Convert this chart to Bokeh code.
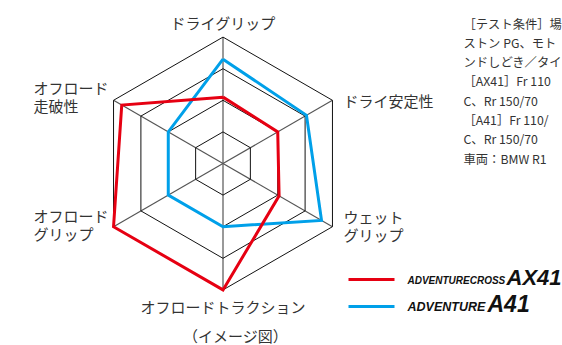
import math
from bokeh.plotting import figure
from bokeh.models import Range1d
from bokeh.core.properties import value
from bokeh.embed import file_html
from bokeh.resources import INLINE

# ---- data ----
categories = ["ドライグリップ", "ドライ安定性", "ウェットグリップ", "オフロードトラクション", "オフロードグリップ", "オフロード走破性"]
ax41_values = [2.1, 2.0, 2.05, 4.0, 4.0, 3.7]
a41_values = [3.3, 3.05, 3.6, 2.0, 2.0, 2.0]
ring_levels = [1, 2, 3, 4]
series_names = ["ADVENTURECROSS AX41", "ADVENTURE A41"]
notes = [
    "［テスト条件］場",
    "ストン PG、モト",
    "ンドしどき／タイ",
    "［AX41］Fr 110",
    "C、Rr 150/70",
    "［A41］Fr 110/",
    "C、Rr 150/70",
    "車両：BMW R1",
]

# ---- geometry (pixel mapping) ----
W, H = 562, 345
CX, CY = 222.5, 163.0   # px of radar centre
U = 31.6                # px per unit


def px(x):
    return (x - CX) / U


def py(y):
    return (CY - y) / U


angles = [math.radians(90 - 60 * i) for i in range(6)]

p = figure(width=W, height=H, output_backend="svg", toolbar_location=None,
           x_range=Range1d(px(0), px(W)), y_range=Range1d(py(H), py(0)),
           x_axis_type=None, y_axis_type=None, min_border=0)
p.grid.visible = False
p.outline_line_color = None
p.background_fill_color = "white"
p.border_fill_color = "white"

rmax = max(ring_levels)
# spokes
for a in angles:
    p.line([0, rmax * math.cos(a)], [0, rmax * math.sin(a)], line_color="#555555", line_width=1.2)
# rings
for r in ring_levels:
    xs = [r * math.cos(a) for a in angles] + [r * math.cos(angles[0])]
    ys = [r * math.sin(a) for a in angles] + [r * math.sin(angles[0])]
    p.line(xs, ys, line_color="#111111", line_width=1)

# series
def poly(vals):
    xs = [v * math.cos(a) for v, a in zip(vals, angles)]
    ys = [v * math.sin(a) for v, a in zip(vals, angles)]
    return xs + [xs[0]], ys + [ys[0]]

bx, by = poly(a41_values)
p.line(bx, by, line_color="#00a0e9", line_width=3, line_join="miter")
rx, ry = poly(ax41_values)
p.line(rx, ry, line_color="#e60012", line_width=3, line_join="miter")

font = value("Noto Sans CJK JP")
tc = "#333333"

def txt(x, y, s, size="15px", align="left", color=tc, fnt=font, style="normal"):
    p.text([px(x)], [py(y)], text=[s], text_font=fnt, text_font_size=size,
           text_align=align, text_baseline="middle", text_color=color,
           text_font_style=style)

# axis labels
txt(222.5, 22, categories[0], align="center")
txt(343, 100, categories[1])
txt(343, 216, "ウェット")
txt(343, 234, "グリップ")
txt(222.5, 306, categories[3], align="center")
txt(33, 215, "オフロード")
txt(33, 233, "グリップ")
txt(33, 87, "オフロード")
txt(33, 105, "走破性")
txt(235, 335, "（イメージ図）", align="center")

# notes
for i, s in enumerate(notes):
    txt(463, 23 + i * 19.3, s, size="12.3px")

# legend
p.line([px(348), px(394)], [py(279), py(279)], line_color="#e60012", line_width=3)
p.line([px(348), px(394)], [py(306), py(306)], line_color="#00a0e9", line_width=3)
lf = value("Liberation Sans")
txt(407, 280, "ADVENTURECROSS", size="10px", fnt=lf, style="bold italic", color="#111111")
txt(506, 277, "AX41", size="22px", fnt=lf, style="bold italic", color="#111111")
txt(407, 306, "ADVENTURE", size="12.5px", fnt=lf, style="bold italic", color="#111111")
txt(487, 303, "A41", size="23px", fnt=lf, style="bold italic", color="#111111")

open("out.html", "w").write(file_html(p, INLINE))
